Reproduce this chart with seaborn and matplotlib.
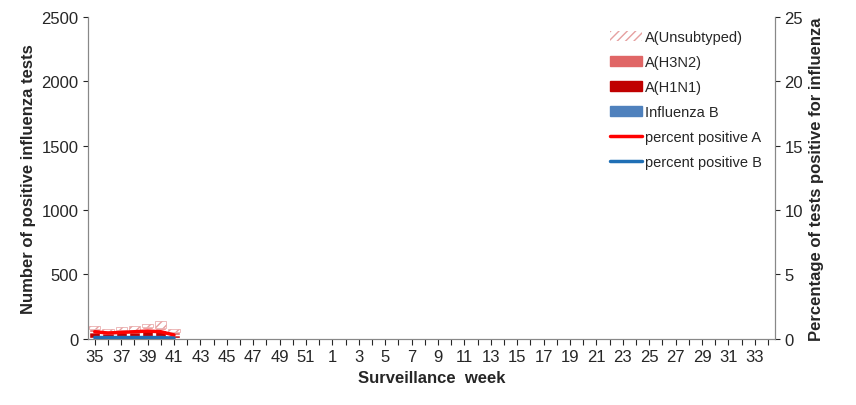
import matplotlib
matplotlib.use("Agg")
import matplotlib.pyplot as plt
import seaborn as sns
import numpy as np
from matplotlib.patches import Patch
from matplotlib.lines import Line2D

sns.set_style("white")
plt.rcParams['font.family'] = ['Liberation Sans', 'DejaVu Sans']
plt.rcParams['hatch.color'] = '#e6a0a0'

weeks = [str(w) for w in list(range(35, 53)) + list(range(1, 35))]
flu_b =   [10, 8, 10, 10, 12, 10, 6]
h1n1 =    [45, 35, 40, 45, 65, 55, 25]
h3n2 =    [20, 17, 15, 15, 15, 20, 20]
unsub =   [25, 20, 30, 30, 23, 55, 29]
pct_a =   [0.55, 0.45, 0.5, 0.55, 0.6, 0.55, 0.3]
pct_b =   [0.1, 0.1, 0.1, 0.1, 0.1, 0.1, 0.05]

n = len(flu_b)
x = np.arange(n)
fig = plt.figure(figsize=(8.56, 4.06), dpi=100)
ax = fig.add_axes([0.103, 0.163, 0.802, 0.793])
w = 0.85
b0 = np.array(flu_b); b1 = b0 + h1n1; b2 = b1 + h3n2
ax.bar(x, flu_b, width=w, color='#4f81bd')
ax.bar(x, h1n1, bottom=b0, width=w, color='#c00000')
ax.bar(x, h3n2, bottom=b1, width=w, color='#e06666')
ax.bar(x, unsub, bottom=b2, width=w, color='white', edgecolor='#e6a0a0', hatch='////', linewidth=0.5)
ax.set_xlim(-0.5, len(weeks) - 0.5)
ax.set_ylim(0, 2500)
ax.set_yticks(range(0, 2501, 500))
ax.set_xticks(range(len(weeks)))
ax.set_xticklabels([wk if i % 2 == 0 else '' for i, wk in enumerate(weeks)], fontsize=12)
ax.tick_params(axis='x', length=4, direction='out', bottom=True)
ax.tick_params(axis='y', labelsize=12)
ax.set_xlabel('Surveillance  week', fontsize=12, fontweight='bold')
ax.set_ylabel('Number of positive influenza tests', fontsize=12, fontweight='bold')
ax.spines['top'].set_visible(False)
for s in ['left', 'bottom', 'right']:
    ax.spines[s].set_color('#888888')

ax2 = ax.twinx()
ax2.plot(x, pct_a, color='#ff0000', lw=2.5)
ax2.plot(x, pct_b, color='#1f6fb5', lw=2.5)
ax2.set_ylim(0, 25)
ax2.set_yticks(range(0, 26, 5))
ax2.tick_params(axis='y', labelsize=12)
ax2.set_ylabel('Percentage of tests positive for influenza', fontsize=12, fontweight='bold')
ax2.spines['top'].set_visible(False)
for s in ['left', 'bottom', 'right']:
    ax2.spines[s].set_color('#888888')

handles = [Patch(facecolor='white', edgecolor='#e6a0a0', hatch='////', lw=0),
           Patch(color='#e06666'), Patch(color='#c00000'), Patch(color='#4f81bd'),
           Line2D([], [], color='#ff0000', lw=2.5), Line2D([], [], color='#1f6fb5', lw=2.5)]
labels = ['A(Unsubtyped)', 'A(H3N2)', 'A(H1N1)', 'Influenza B', 'percent positive A', 'percent positive B']
ax2.legend(handles, labels, loc='upper right', bbox_to_anchor=(1.0, 1.0), frameon=False,
           fontsize=10.5, handlelength=2.2, handletextpad=0.2, labelspacing=0.75)
fig.savefig('out.png', dpi=100)
